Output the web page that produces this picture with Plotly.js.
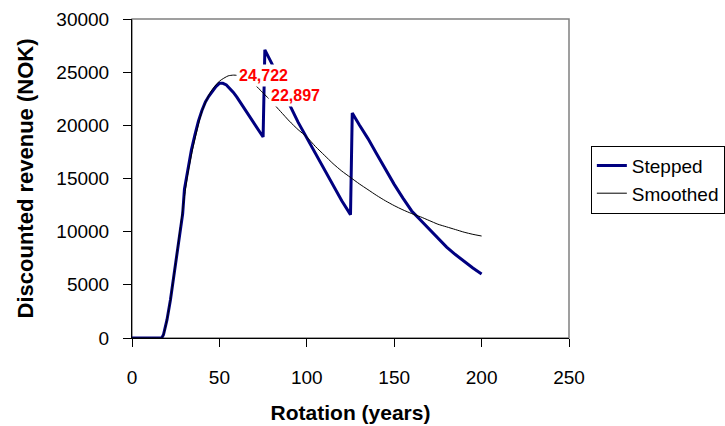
<!DOCTYPE html>
<html>
<head>
<meta charset="utf-8">
<script src="https://cdn.plot.ly/plotly-3.0.1.min.js"></script>
<style>html,body{margin:0;padding:0;background:#fff;}#chart{width:725px;height:426px;}</style>
</head>
<body>
<div id="chart"></div>
<script>
// Rotation age (years) and discounted revenue (NOK)
const steppedYears = [0,5,10,15,17,18,19,20,22,25,28,29,30,32,34,36,38,40,42,44,46,48,50,52,54,56,58,60,62,64,66,68,70,72,74,75,
  76,80,85,90,95,100,105,110,115,120,125,
  126,130,135,140,145,150,155,160,165,170,175,180,185,190,195,200];
const steppedRevenue = [0,0,0,0,0,300,900,1700,3600,7100,10600,11700,14000,16000,17700,19100,20400,21400,22200,22750,23250,23650,23950,23950,23800,23480,23100,22650,22150,21650,21100,20600,20100,19600,19100,18900,
  27100,25800,24000,22000,20300,18800,17300,15800,14300,12900,11600,
  21150,20050,18750,17300,15850,14450,13150,11950,11100,10250,9400,8550,7850,7200,6580,6020];

const smoothYears = [0,5,10,15,17,18,19,20,22,25,28,30,32,35,40,45,50,55,58,60,65,70,75,80,85,90,95,100,105,110,115,120,125,130,135,140,145,150,155,160,165,170,175,180,185,190,195,200];
const smoothRevenue = [0,0,0,0,0,300,900,1700,3600,7100,10800,13300,15500,18000,21300,23150,24150,24650,24722,24700,24400,23850,23050,22200,21300,20400,19600,18900,18000,17200,16400,15700,15100,14500,13950,13400,12900,12450,12050,11700,11400,11050,10700,10450,10200,9950,9750,9590];

const labelTexts = ['24,722', '22,897'];
const labelX = [75.5, 93.8];
const labelY = [24640, 22850];

const xTicks = [0,50,100,150,200,250];
const yTicks = [0,5000,10000,15000,20000,25000,30000];

const FONT = '"Liberation Sans", Arial, sans-serif';

const traces = [
  {x: steppedYears, y: steppedRevenue, name: 'Stepped', type: 'scatter', mode: 'lines',
   line: {color: '#000080', width: 3}},
  {x: smoothYears, y: smoothRevenue, name: 'Smoothed', type: 'scatter', mode: 'lines',
   line: {color: '#000000', width: 1, shape: 'spline', smoothing: 0.6}}
];

const annotations = labelTexts.map((t, i) => ({
  x: labelX[i], y: labelY[i], xref: 'x', yref: 'y', text: t, showarrow: false,
  font: {family: FONT, size: 16, color: '#ff0000', weight: 'bold'},
  bgcolor: '#ffffff', borderpad: 2
}));

const layout = {
  width: 725, height: 426,
  margin: {l: 132, r: 156, t: 19, b: 88, autoexpand: false},
  paper_bgcolor: '#ffffff', plot_bgcolor: '#ffffff',
  font: {family: FONT, color: '#000000', size: 19},
  showlegend: true,
  legend: {x: 1.05, xanchor: 'left', y: 0.603, yanchor: 'top',
    bordercolor: '#000000', borderwidth: 1, bgcolor: '#ffffff', itemwidth: 30,
    font: {family: FONT, size: 19, color: '#000000'}, tracegroupgap: 0},
  xaxis: {
    range: [0, 250], tickvals: xTicks, ticktext: xTicks.map(String),
    showgrid: false, zeroline: false, showline: true, linecolor: '#000000', linewidth: 1,
    ticks: 'outside', ticklen: 8, tickcolor: '#000000', tickwidth: 1,
    tickfont: {family: FONT, size: 19}, ticklabelstandoff: 14,
    title: {text: 'Rotation (years)', font: {family: FONT, size: 21, weight: 'bold'}, standoff: 18}
  },
  yaxis: {
    range: [0, 30000], tickvals: yTicks, ticktext: yTicks.map(String),
    showgrid: false, zeroline: false, showline: true, linecolor: '#000000', linewidth: 1,
    ticks: 'outside', ticklen: 8, tickcolor: '#000000', tickwidth: 1,
    tickfont: {family: FONT, size: 19}, ticklabelstandoff: 10,
    title: {text: 'Discounted revenue (NOK)', font: {family: FONT, size: 22, weight: 'bold'}, standoff: 16}
  },
  shapes: [{type: 'rect', xref: 'paper', yref: 'paper', x0: 0, x1: 1, y0: 0, y1: 1,
    line: {color: '#808080', width: 1.5}, layer: 'below'}],
  annotations: annotations
};

Plotly.newPlot('chart', traces, layout, {displayModeBar: false, staticPlot: true});
</script>
</body>
</html>
